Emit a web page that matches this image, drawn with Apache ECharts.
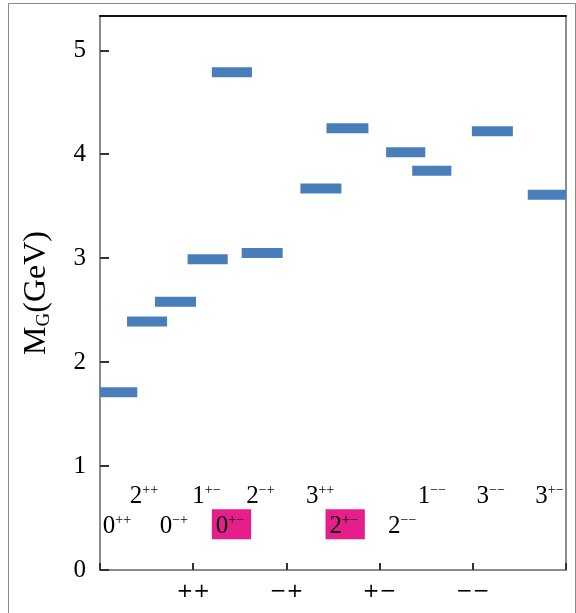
<!DOCTYPE html>
<html>
<head>
<meta charset="utf-8">
<script src="https://cdn.jsdelivr.net/npm/echarts@6/dist/echarts.min.js"></script>
<style>
html,body{margin:0;padding:0;background:#fff;}
#chart{width:576px;height:613px;}
</style>
</head>
<body>
<div id="chart"></div>
<script>
// ---- data ----
const stateBase  = ['0','2','0','1','0','2','3','2','1','2','3','3'];
const stateSup   = ['++','++','\u2212+','+\u2212','+\u2212','\u2212+','++','+\u2212','\u2212\u2212','\u2212\u2212','\u2212\u2212','+\u2212'];
const massGeV    = [1.71, 2.39, 2.58, 2.99, 4.79, 3.05, 3.67, 4.25, 4.02, 3.84, 4.22, 3.61];
const levelStart = [0.00, 0.29, 0.59, 0.94, 1.20, 1.52, 2.15, 2.43, 3.07, 3.35, 3.99, 4.59];
const levelEnd   = [0.40, 0.72, 1.03, 1.37, 1.63, 1.96, 2.59, 2.88, 3.49, 3.77, 4.43, 5.00];
const labelX     = [0.03, 0.32, 0.64, 0.99, 1.20, 1.57, 2.21, 2.42, 3.41, 3.09, 4.04, 4.67];
const labelY     = [0.42, 0.71, 0.42, 0.71, 0.44, 0.71, 0.71, 0.44, 0.71, 0.42, 0.71, 0.71];
const highlighted= [0, 0, 0, 0, 1, 0, 0, 1, 0, 0, 0, 0];
const xTickLabels = ['', '++', '\u2212+', '+\u2212', '\u2212\u2212', ''];
const yTicks = [0, 1, 2, 3, 4, 5];

// ---- styles ----
const serif = "'Liberation Serif', 'Times New Roman', 'DejaVu Serif', serif";
const barColor = '#4a7ebb';
const pink = '#e61e8c';

const chart = echarts.init(document.getElementById('chart'));

const levelData = massGeV.map((m, i) => [levelStart[i], levelEnd[i], m]);
const labelData = stateBase.map((b, i) => ({
  value: [labelX[i], labelY[i]],
  label: {
    formatter: '{b|' + b + '}{s|' + stateSup[i] + '}',
    backgroundColor: highlighted[i] ? pink : 'transparent',
    padding: highlighted[i] ? [4, 7, 0, 4] : 0
  }
}));

const richLabel = {
  b: {fontFamily: serif, fontSize: 25, lineHeight: 26, color: '#000', textBorderWidth: 0},
  s: {fontFamily: serif, fontSize: 14, lineHeight: 14, color: '#000', verticalAlign: 'top', textBorderWidth: 0}
};

chart.setOption({
  animation: false,
  backgroundColor: '#fff',
  textStyle: {fontFamily: serif},
  graphic: [{
    type: 'rect', left: 6, top: 1, z: -1,
    shape: {width: 567, height: 640},
    style: {fill: 'none', stroke: '#8a8a8a', lineWidth: 1}
  }],
  grid: {left: 100, right: 10, top: 16, bottom: 43, containLabel: false},
  xAxis: [{
    type: 'value', min: 0, max: 5, interval: 1,
    axisLine: {show: true, onZero: false, lineStyle: {color: '#8c8c8c', width: 2}},
    axisTick: {show: true, inside: true, length: 7, lineStyle: {color: '#333', width: 2}},
    splitLine: {show: false},
    axisLabel: {
      margin: 12, color: '#000',
      formatter: v => '{t|' + (xTickLabels[Math.round(v)] || '') + '}',
      rich: {t: {fontFamily: 'DejaVu Sans', fontSize: 20, color: '#000'}}
    }
  }, {
    type: 'value', min: 0, max: 5, interval: 1, position: 'top',
    axisLine: {show: true, onZero: false, lineStyle: {color: '#111', width: 2}},
    axisTick: {show: false}, axisLabel: {show: false}, splitLine: {show: false}
  }],
  yAxis: [{
    type: 'value', min: 0, max: 5.33, interval: 1,
    axisLine: {show: true, onZero: false, lineStyle: {color: '#8c8c8c', width: 2}},
    axisTick: {show: true, inside: true, length: 9, lineStyle: {color: '#333', width: 2}},
    splitLine: {show: false},
    axisLabel: {
      margin: 14, color: '#000', showMaxLabel: false,
      fontFamily: 'serif', fontSize: 25,
      formatter: v => (yTicks.indexOf(v) >= 0 ? String(v) : '')
    },
    name: '{m|M}{g|G}{m|(GeV)}',
    nameLocation: 'middle',
    nameGap: 46,
    nameTextStyle: {
      rich: {
        m: {fontFamily: serif, fontSize: 32, lineHeight: 34, color: '#000'},
        g: {fontFamily: serif, fontSize: 19, lineHeight: 19, color: '#000', verticalAlign: 'bottom'}
      }
    }
  }, {
    type: 'value', min: 0, max: 5.33, interval: 1, position: 'right',
    axisLine: {show: true, onZero: false, lineStyle: {color: '#8c8c8c', width: 2}},
    axisTick: {show: false}, axisLabel: {show: false}, splitLine: {show: false}
  }],
  series: [{
    type: 'custom',
    xAxisIndex: 0, yAxisIndex: 0,
    data: levelData,
    clip: true,
    renderItem: function (params, api) {
      const y = api.value(2);
      const p0 = api.coord([api.value(0), y]);
      const p1 = api.coord([api.value(1), y]);
      return {
        type: 'rect',
        shape: {x: p0[0], y: p0[1] - 5, width: p1[0] - p0[0], height: 10},
        style: {fill: barColor}
      };
    }
  }, {
    type: 'scatter',
    xAxisIndex: 1, yAxisIndex: 1,
    symbolSize: 0,
    itemStyle: {opacity: 1},
    data: labelData,
    label: {
      show: true,
      position: [0, 0],
      align: 'left',
      verticalAlign: 'middle',
      color: '#000',
      opacity: 1,
      textBorderWidth: 0,
      rich: richLabel
    }
  }]
});
</script>
</body>
</html>
